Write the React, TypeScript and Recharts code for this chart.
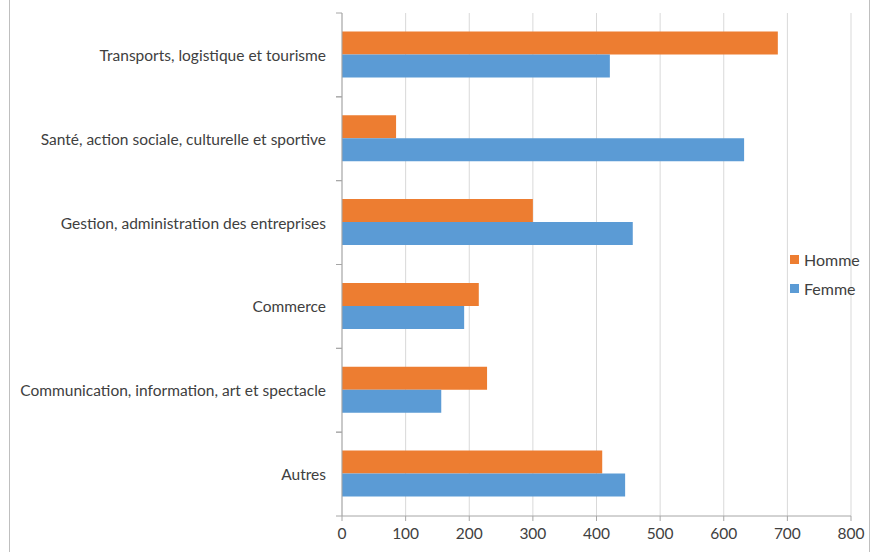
import { BarChart, Bar, XAxis, YAxis, CartesianGrid } from "recharts";

const categories = [
  "Transports, logistique et tourisme",
  "Santé, action sociale, culturelle et sportive",
  "Gestion, administration des entreprises",
  "Commerce",
  "Communication, information, art et spectacle",
  "Autres",
];
const homme = [685, 85, 300, 215, 228, 409];
const femme = [421, 632, 457, 192, 156, 445];
const xTicks = [0, 100, 200, 300, 400, 500, 600, 700, 800];
const seriesNames = ["Homme", "Femme"];
const seriesColors = ["#ED7D31", "#5B9BD5"];

const data = categories.map((name, i) => ({ name, homme: homme[i], femme: femme[i] }));

const W = 874;
const H = 552;
const TOP = 13;
const BOTTOM = 516;
const AXIS_X = 342;
const BAND = (BOTTOM - TOP) / categories.length;
const FONT = "Lato, 'Open Sans', sans-serif";
const FS = 15.5;

const CategoryTick = ({ y, payload }: any) => (
  <g>
    <text x={AXIS_X - 16} y={y} textAnchor="end" dominantBaseline="central" fill="#404040" fontSize={FS} fontFamily={FONT}>
      {payload.value}
    </text>
    <line x1={AXIS_X - 6} x2={AXIS_X} y1={y - BAND / 2} y2={y - BAND / 2} stroke="#a6a6a6" />
    <line x1={AXIS_X - 6} x2={AXIS_X} y1={y + BAND / 2} y2={y + BAND / 2} stroke="#a6a6a6" />
  </g>
);

export default function App() {
  return (
    <div style={{ position: "absolute", left: 0, top: 0, width: W, height: H, background: "#fff" }}>
      <div
        style={{
          position: "absolute",
          left: 9,
          top: 0,
          width: 859,
          height: H,
          borderLeft: "1px solid #bfbfbf",
          borderRight: "1px solid #bfbfbf",
        }}
      />
      <BarChart
        width={W}
        height={H}
        data={data}
        layout="vertical"
        margin={{ top: TOP, right: 23, bottom: 6, left: 0 }}
        barCategoryGap="22%"
        barGap={0}
        style={{ fontFamily: FONT }}
      >
        <CartesianGrid horizontal={false} vertical={true} stroke="#d9d9d9" />
        <XAxis
          type="number"
          domain={[0, 800]}
          ticks={xTicks}
          interval={0}
          height={30}
          tickSize={5}
          tickMargin={7}
          stroke="#a6a6a6"
          tick={{ fill: "#404040", fontSize: FS }}
        />
        <YAxis
          type="category"
          dataKey="name"
          width={AXIS_X}
          interval={0}
          tickLine={false}
          stroke="#a6a6a6"
          tick={<CategoryTick />}
        />
        <Bar dataKey="homme" name="Homme" fill={seriesColors[0]} isAnimationActive={false} />
        <Bar dataKey="femme" name="Femme" fill={seriesColors[1]} isAnimationActive={false} />
      </BarChart>
      <div style={{ position: "absolute", left: 790, top: 245, fontFamily: FONT, fontSize: 16, color: "#404040" }}>
        {seriesNames.map((label, i) => (
          <div key={label} style={{ display: "flex", alignItems: "center", height: 29 }}>
            <span style={{ width: 9, height: 9, background: seriesColors[i], marginRight: 5, display: "inline-block" }} />
            {label}
          </div>
        ))}
      </div>
    </div>
  );
}
